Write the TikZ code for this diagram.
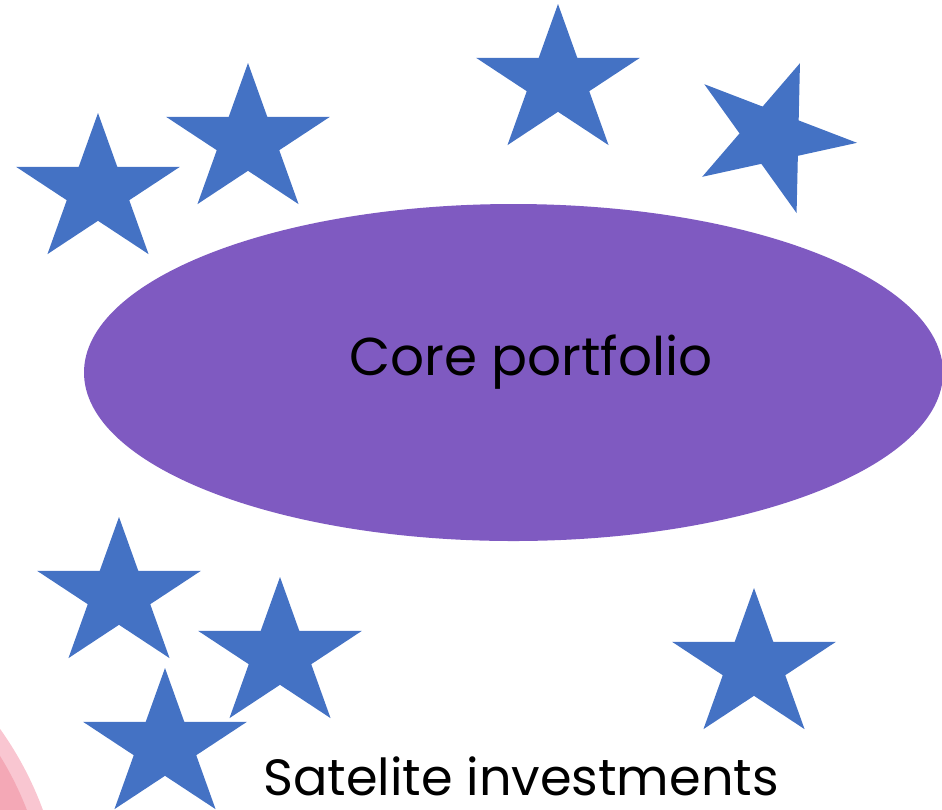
\documentclass[tikz,border=0pt]{standalone}
\usepackage{fontspec}
\setmainfont{Poppins}
\usetikzlibrary{positioning}
\definecolor{starblue}{HTML}{4472C4}
\definecolor{corepurple}{HTML}{7F5AC1}
\definecolor{pinklight}{HTML}{F9C6D1}
\definecolor{pinkdark}{HTML}{F4A8B6}
\newcommand{\bluestar}[3]{\fill[starblue,shift={(#1,-#2)},rotate=#3,xscale=86,yscale=78]
  (90:1) -- (126:.382) -- (162:1) -- (198:.382) -- (234:1) -- (270:.382)
  -- (306:1) -- (342:.382) -- (18:1) -- (54:.382) -- cycle;}

\begin{document}
\begin{tikzpicture}[x=0.02cm,y=0.02cm,every node/.style={inner sep=0pt,anchor=base},
  coretext/.style={font=\fontsize{30.3}{36}\selectfont},
  sattext/.style={font=\fontsize{29}{35}\selectfont}]
\useasboundingbox (0,0) rectangle (942,-809);
\clip (0,0) rectangle (942,-809);
% pink circle in the corner
\fill[pinklight] (-281,-929) circle (345);
\fill[pinkdark] (-281,-929) circle (330);
% core
\fill[corepurple] (513.5,-372.5) ellipse (429.5 and 168.5);
\node[coretext] (core) at (531,-375) {Core portfolio};
% satelites
\foreach \sx/\sy/\sr in {98/191/0,248/141/0,558/82/0,772/136/-21,
  119/595/0,280/655/0,165/746/0,754/666/0}
  \bluestar{\sx}{\sy}{\sr};
\node[sattext] (sat) at (521,-795) {Satelite investments};
\end{tikzpicture}
\end{document}
